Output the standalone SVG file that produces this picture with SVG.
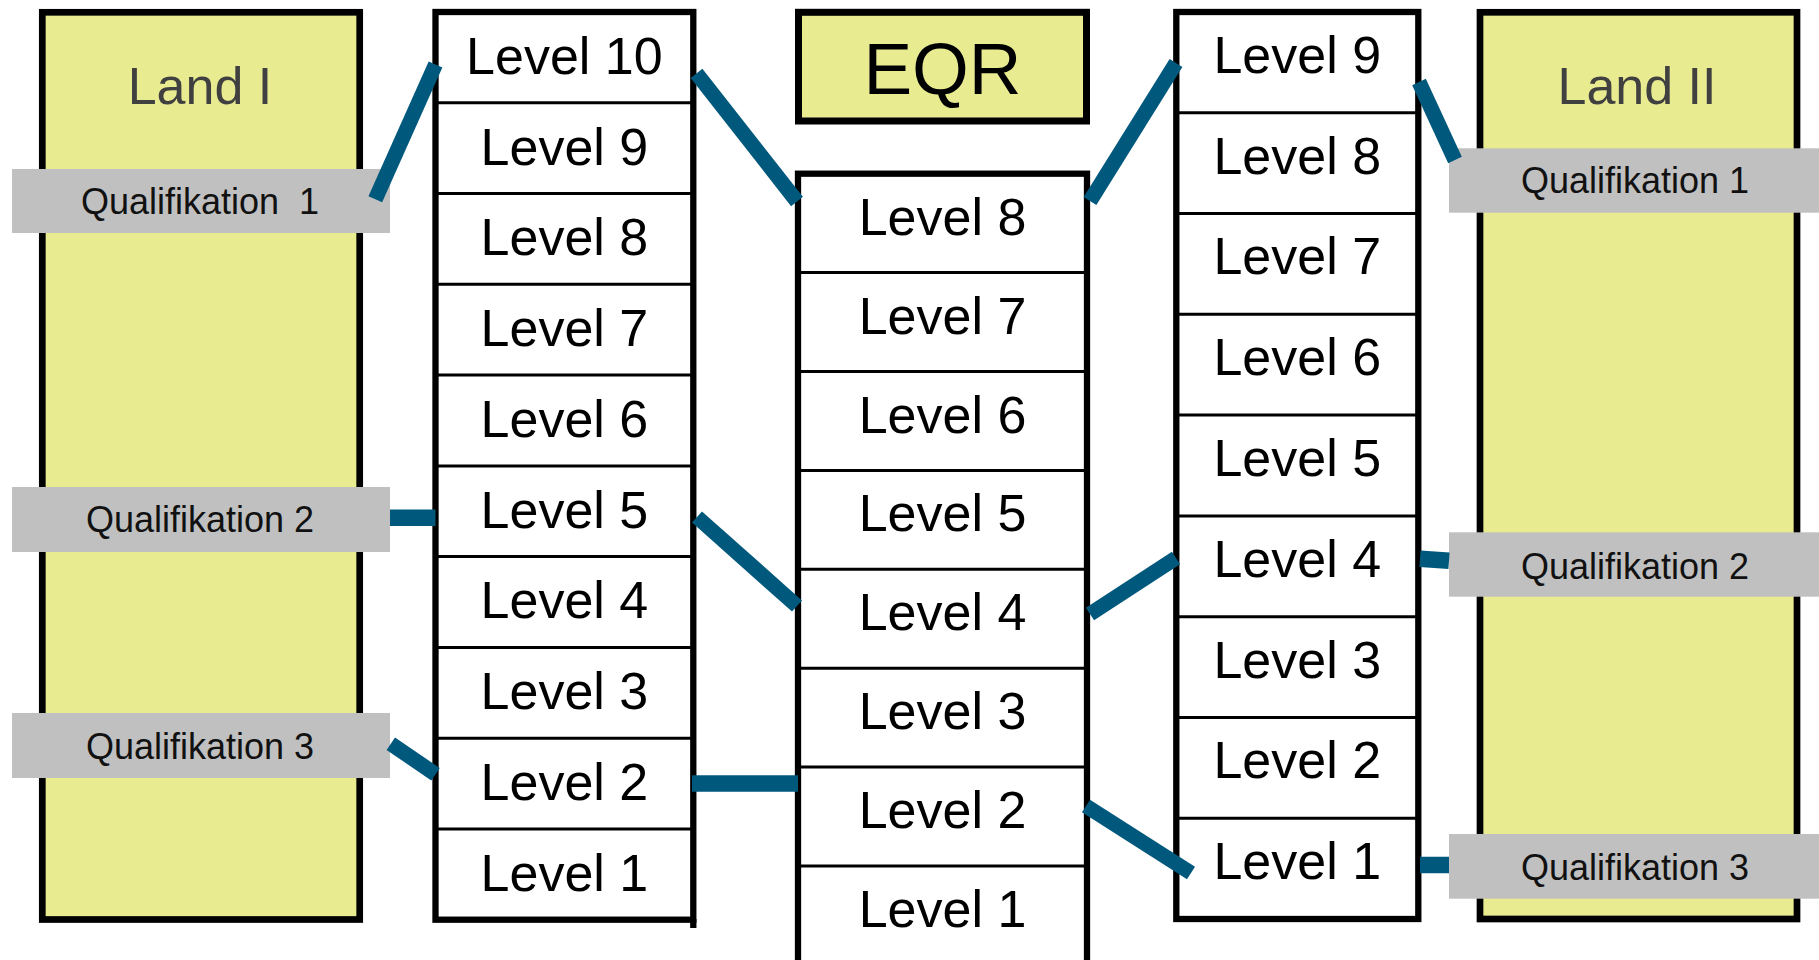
<svg xmlns="http://www.w3.org/2000/svg" width="1819" height="960" viewBox="0 0 1819 960">
<style>
.land{fill:#E9EB91;stroke:#000;stroke-width:6.7}
.landlbl{font-family:"Liberation Sans",Arial,sans-serif;font-size:52px;fill:#404040;text-anchor:middle}
.frame{fill:#fff;stroke:#000;stroke-width:6.3}
.div{stroke:#000;stroke-width:3}
.lvl{font-family:"Liberation Sans",Arial,sans-serif;font-size:52px;fill:#000;text-anchor:middle}
.eqrbox{fill:#E9EB91;stroke:#000;stroke-width:7}
.eqr{font-family:"Liberation Sans",Arial,sans-serif;font-size:73px;fill:#000;text-anchor:middle}
.qbox{fill:#C0C0C0}
.qlbl{font-family:"Liberation Sans",Arial,sans-serif;font-size:36px;fill:#111;text-anchor:middle}
.conn{stroke:#00587C;stroke-width:15;fill:none;stroke-linecap:butt}
.connh{stroke-width:16.5}
</style>
<rect width="1819" height="960" fill="#fff"/>
<g id="land-1">
<rect class="land" x="42.3" y="12.3" width="317.4" height="907.2"/>
<text class="landlbl" x="200" y="104">Land I</text>
</g>
<g id="land-2">
<rect class="land" x="1480" y="12.3" width="317" height="906.7"/>
<text class="landlbl" x="1637" y="104">Land II</text>
</g>
<g id="q1-left"><rect class="qbox" x="12" y="169" width="378" height="64"/><text class="qlbl" x="200" y="214" xml:space="preserve">Qualifikation  1</text></g>
<g id="q2-left"><rect class="qbox" x="12" y="487" width="378" height="65"/><text class="qlbl" x="200" y="532">Qualifikation 2</text></g>
<g id="q3-left"><rect class="qbox" x="12" y="713" width="378" height="65"/><text class="qlbl" x="200" y="759">Qualifikation 3</text></g>
<g id="q1-right"><rect class="qbox" x="1449" y="148.3" width="370" height="64.4"/><text class="qlbl" x="1635" y="193.3">Qualifikation 1</text></g>
<g id="q2-right"><rect class="qbox" x="1449" y="532.3" width="370" height="64.4"/><text class="qlbl" x="1635" y="579">Qualifikation 2</text></g>
<g id="q3-right"><rect class="qbox" x="1449" y="834" width="370" height="64.7"/><text class="qlbl" x="1635" y="880">Qualifikation 3</text></g>

<g id="levels-land-1">
<rect class="frame" x="435.5" y="12" width="257.8" height="907.7"/>
<line x1="693.3" y1="919" x2="693.3" y2="928" stroke="#000" stroke-width="6.3"/>
<g id="l1-10"><text class="lvl" x="564.4" y="73.7">Level 10</text></g>
<g id="l1-9"><line class="div" x1="435.5" y1="102.8" x2="693.3" y2="102.8"/><text class="lvl" x="564.4" y="164.5">Level 9</text></g>
<g id="l1-8"><line class="div" x1="435.5" y1="193.5" x2="693.3" y2="193.5"/><text class="lvl" x="564.4" y="255.2">Level 8</text></g>
<g id="l1-7"><line class="div" x1="435.5" y1="284.3" x2="693.3" y2="284.3"/><text class="lvl" x="564.4" y="346">Level 7</text></g>
<g id="l1-6"><line class="div" x1="435.5" y1="375.1" x2="693.3" y2="375.1"/><text class="lvl" x="564.4" y="436.8">Level 6</text></g>
<g id="l1-5"><line class="div" x1="435.5" y1="465.9" x2="693.3" y2="465.9"/><text class="lvl" x="564.4" y="527.6">Level 5</text></g>
<g id="l1-4"><line class="div" x1="435.5" y1="556.6" x2="693.3" y2="556.6"/><text class="lvl" x="564.4" y="618.3">Level 4</text></g>
<g id="l1-3"><line class="div" x1="435.5" y1="647.4" x2="693.3" y2="647.4"/><text class="lvl" x="564.4" y="709.1">Level 3</text></g>
<g id="l1-2"><line class="div" x1="435.5" y1="738.2" x2="693.3" y2="738.2"/><text class="lvl" x="564.4" y="799.9">Level 2</text></g>
<g id="l1-1"><line class="div" x1="435.5" y1="828.9" x2="693.3" y2="828.9"/><text class="lvl" x="564.4" y="890.6">Level 1</text></g>
</g>

<g id="eqr-title">
<rect class="eqrbox" x="798.5" y="12.3" width="288" height="108.7"/>
<text class="eqr" x="942.5" y="94">EQR</text>
</g>

<g id="levels-eqr">
<rect class="frame" x="798" y="173.7" width="289" height="820"/>
<g id="e-8"><text class="lvl" x="942.5" y="234.7">Level 8</text></g>
<g id="e-7"><line class="div" x1="798" y1="272.6" x2="1087" y2="272.6"/><text class="lvl" x="942.5" y="333.6">Level 7</text></g>
<g id="e-6"><line class="div" x1="798" y1="371.5" x2="1087" y2="371.5"/><text class="lvl" x="942.5" y="432.5">Level 6</text></g>
<g id="e-5"><line class="div" x1="798" y1="470.4" x2="1087" y2="470.4"/><text class="lvl" x="942.5" y="531.4">Level 5</text></g>
<g id="e-4"><line class="div" x1="798" y1="569.3" x2="1087" y2="569.3"/><text class="lvl" x="942.5" y="630.3">Level 4</text></g>
<g id="e-3"><line class="div" x1="798" y1="668.2" x2="1087" y2="668.2"/><text class="lvl" x="942.5" y="729.2">Level 3</text></g>
<g id="e-2"><line class="div" x1="798" y1="767.1" x2="1087" y2="767.1"/><text class="lvl" x="942.5" y="828.1">Level 2</text></g>
<g id="e-1"><line class="div" x1="798" y1="866" x2="1087" y2="866"/><text class="lvl" x="942.5" y="927">Level 1</text></g>
</g>

<g id="levels-land-2">
<rect class="frame" x="1176.3" y="12" width="242" height="907"/>
<g id="l2-9"><text class="lvl" x="1297.3" y="72.8">Level 9</text></g>
<g id="l2-8"><line class="div" x1="1176.3" y1="112.8" x2="1418.3" y2="112.8"/><text class="lvl" x="1297.3" y="173.6">Level 8</text></g>
<g id="l2-7"><line class="div" x1="1176.3" y1="213.6" x2="1418.3" y2="213.6"/><text class="lvl" x="1297.3" y="274.4">Level 7</text></g>
<g id="l2-6"><line class="div" x1="1176.3" y1="314.3" x2="1418.3" y2="314.3"/><text class="lvl" x="1297.3" y="375.1">Level 6</text></g>
<g id="l2-5"><line class="div" x1="1176.3" y1="415.1" x2="1418.3" y2="415.1"/><text class="lvl" x="1297.3" y="475.9">Level 5</text></g>
<g id="l2-4"><line class="div" x1="1176.3" y1="515.9" x2="1418.3" y2="515.9"/><text class="lvl" x="1297.3" y="576.7">Level 4</text></g>
<g id="l2-3"><line class="div" x1="1176.3" y1="616.7" x2="1418.3" y2="616.7"/><text class="lvl" x="1297.3" y="677.5">Level 3</text></g>
<g id="l2-2"><line class="div" x1="1176.3" y1="717.4" x2="1418.3" y2="717.4"/><text class="lvl" x="1297.3" y="778.2">Level 2</text></g>
<g id="l2-1"><line class="div" x1="1176.3" y1="818.2" x2="1418.3" y2="818.2"/><text class="lvl" x="1297.3" y="879">Level 1</text></g>
</g>

<g id="connectors">
<line class="conn" x1="375.3" y1="199.3" x2="435.5" y2="64.5"/>
<line class="conn connh" x1="390" y1="517.7" x2="435.5" y2="517.7"/>
<line class="conn" x1="390.8" y1="743.8" x2="435.5" y2="774.2"/>
<line class="conn" x1="696.5" y1="73.3" x2="797" y2="201.5"/>
<line class="conn" x1="697" y1="517" x2="797" y2="606"/>
<line class="conn connh" x1="692" y1="783.5" x2="798" y2="783.5"/>
<line class="conn" x1="1090" y1="201" x2="1176" y2="63"/>
<line class="conn" x1="1090" y1="614" x2="1176" y2="558"/>
<line class="conn" x1="1086" y1="806" x2="1191" y2="873"/>
<line class="conn" x1="1419" y1="82" x2="1455" y2="160"/>
<line class="conn connh" x1="1420" y1="558.8" x2="1449" y2="560.8"/>
<line class="conn connh" x1="1420" y1="865" x2="1449" y2="865"/>
</g>
</svg>
